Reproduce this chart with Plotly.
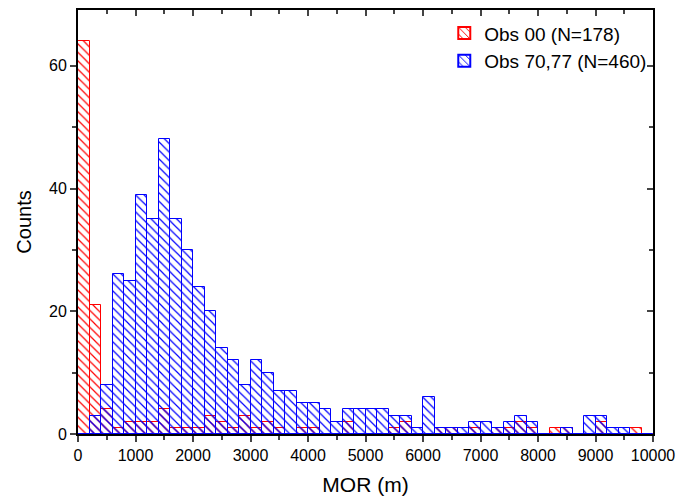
import plotly.graph_objects as go

bin_start = list(range(0, 10000, 200))
obs00 = [64, 21, 4, 1, 2, 2, 2, 4, 1, 1,
         1, 3, 2, 1, 3, 1, 2, 1, 0, 1,
         1, 0, 0, 2, 0, 0, 0, 1, 2, 0,
         0, 1, 1, 0, 1, 0, 1, 1, 2, 1,
         0, 1, 1, 0, 0, 2, 0, 0, 1, 0]
obs7077 = [0, 3, 8, 26, 25, 39, 35, 48, 35, 30,
           24, 20, 14, 12, 8, 12, 10, 7, 7, 5,
           5, 4, 2, 4, 4, 4, 4, 3, 3, 1,
           6, 1, 1, 1, 2, 2, 1, 2, 3, 2,
           0, 0, 1, 0, 3, 3, 1, 1, 0, 0]
bin_width = 200
x_ticks = list(range(0, 10001, 1000))
x_ticklabels = [str(v) for v in x_ticks]
y_ticks = [0, 20, 40, 60]

centers = [b + bin_width / 2 for b in bin_start]
FONT = "Liberation Sans, Arial, sans-serif"

fig = go.Figure()
fig.add_trace(go.Bar(
    x=centers, y=obs00, width=bin_width, name="Obs 00 (N=178)",
    marker=dict(color="red", line=dict(color="red", width=1),
                pattern=dict(shape="\\", size=6, solidity=0.2, fgcolor="red",
                             bgcolor="rgba(0,0,0,0)", fillmode="replace")),
))
fig.add_trace(go.Bar(
    x=centers, y=obs7077, width=bin_width, name="Obs 70,77 (N=460)",
    marker=dict(color="blue", line=dict(color="blue", width=1),
                pattern=dict(shape="\\", size=6, solidity=0.2, fgcolor="blue",
                             bgcolor="rgba(0,0,0,0)", fillmode="replace")),
))

xr = [0, 10000]
yr = [0, 69.1]

fig.update_layout(
    width=677, height=503,
    margin=dict(l=78, r=24, t=10, b=69, autoexpand=False),
    paper_bgcolor="white", plot_bgcolor="white",
    barmode="overlay", bargap=0,
    font=dict(family=FONT, size=16, color="black"),
    showlegend=True,
    legend=dict(x=0.637, y=0.99, xanchor="left", yanchor="top",
                bgcolor="rgba(0,0,0,0)", font=dict(size=19, family=FONT),
                tracegroupgap=0, itemsizing="constant"),
    xaxis=dict(range=xr, tickvals=x_ticks, ticktext=x_ticklabels, ticks="outside",
               ticklen=6, tickwidth=1.5, automargin=False,
               showline=True, linecolor="black", linewidth=2, showgrid=False, zeroline=False,
               minor=dict(ticks="outside", dtick=500, ticklen=4, tickwidth=1.5, showgrid=False),
               title=dict(text="MOR (m)", font=dict(size=21), standoff=14),
               tickfont=dict(size=16)),
    yaxis=dict(range=yr, tickvals=y_ticks, ticks="outside", ticklen=6, tickwidth=1.5,
               automargin=False,
               showline=True, linecolor="black", linewidth=2, showgrid=False, zeroline=False,
               minor=dict(ticks="outside", dtick=10, ticklen=4, tickwidth=1.5, showgrid=False),
               title=dict(text="Counts", font=dict(size=20), standoff=12),
               tickfont=dict(size=16)),
    xaxis2=dict(range=xr, overlaying="x", side="top", tickvals=x_ticks, ticks="inside",
                ticklen=6, tickwidth=1.5, showticklabels=False, showline=True,
                automargin=False,
                linecolor="black", linewidth=2, showgrid=False, zeroline=False,
                minor=dict(ticks="inside", dtick=500, ticklen=4, tickwidth=1.5)),
    yaxis2=dict(range=yr, overlaying="y", side="right", tickvals=y_ticks, ticks="inside",
                ticklen=6, tickwidth=1.5, showticklabels=False, showline=True,
                automargin=False,
                linecolor="black", linewidth=2, showgrid=False, zeroline=False,
                minor=dict(ticks="inside", dtick=10, ticklen=4, tickwidth=1.5)),
)
# invisible trace to activate the mirrored axes
fig.add_trace(go.Scatter(x=[None], y=[None], xaxis="x2", yaxis="y2", showlegend=False,
                         hoverinfo="skip"))

fig.write_html("out.html")
